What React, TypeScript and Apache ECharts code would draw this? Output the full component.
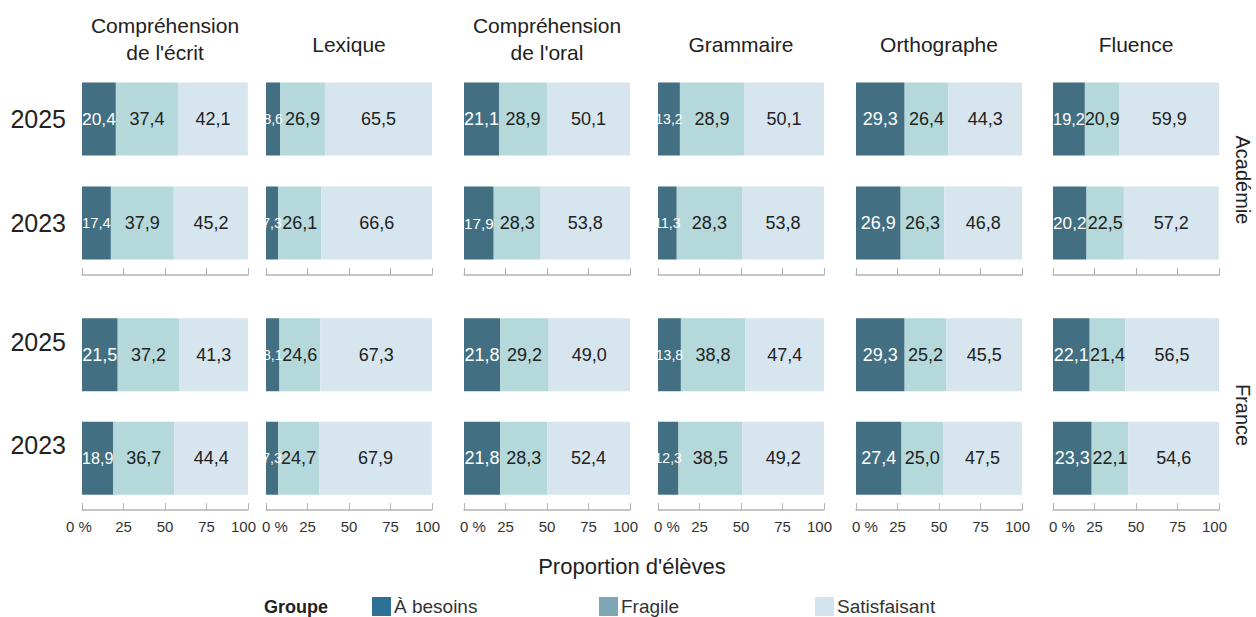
import React, { useEffect, useRef } from "react";
import * as echarts from "echarts";

// ---------- data ----------
const subjects = [
  "Compréhension\nde l'écrit",
  "Lexique",
  "Compréhension\nde l'oral",
  "Grammaire",
  "Orthographe",
  "Fluence",
];
const years = ["2025", "2023"];
const regions = ["Académie", "France"];
const groups = ["À besoins", "Fragile", "Satisfaisant"];
const xTicks = [0, 25, 50, 75, 100];

// values per subject: [2025, 2023]
const besoinsAcad = [[20.4, 17.4], [8.6, 7.3], [21.1, 17.9], [13.2, 11.3], [29.3, 26.9], [19.2, 20.2]];
const fragileAcad = [[37.4, 37.9], [26.9, 26.1], [28.9, 28.3], [38.6, 39.3], [26.4, 26.3], [20.9, 22.5]];
const satisAcad = [[42.1, 45.2], [65.5, 66.6], [50.1, 53.8], [48.2, 49.4], [44.3, 46.8], [59.9, 57.2]];

const besoinsFr = [[21.5, 18.9], [8.1, 7.3], [21.8, 21.8], [13.8, 12.3], [29.3, 27.4], [22.1, 23.3]];
const fragileFr = [[37.2, 36.7], [24.6, 24.7], [29.2, 28.3], [38.8, 38.5], [25.2, 25.0], [21.4, 22.1]];
const satisFr = [[41.3, 44.4], [67.3, 67.9], [49.0, 52.4], [47.4, 49.2], [45.5, 47.5], [56.5, 54.6]];

// labels printed in the reference that differ from the bar lengths (Académie, Grammaire)
const printedAcadGrammaireFragile = ["28,9", "28,3"];
const printedAcadGrammaireSatis = ["50,1", "53,8"];

const regionData = [
  [besoinsAcad, fragileAcad, satisAcad],
  [besoinsFr, fragileFr, satisFr],
];

// ---------- styles ----------
const FONT = "'Liberation Sans', Arial, sans-serif";
const barColors = ["#436f83", "#b5d8da", "#d7e5ee"];
const legendColors = ["#2c7096", "#7ea6b4", "#d4e4ee"];
const labelColors = ["#ffffff", "#222222", "#222222"];
const colX = [82, 266, 464, 658, 856, 1053];
const colW = 166;
const rowBox = [
  { top: 67, height: 208 },
  { top: 303, height: 207 },
];

const fmt = (v: number) => v.toFixed(1).replace(".", ",");
// shrink labels that would not fit in their segment (as the reference does)
const labelSize = (v: number) => Math.max(14, Math.min(18, (v * colW) / 100 / 1.95));

export default function App() {
  const ref = useRef<HTMLDivElement>(null);

  useEffect(() => {
    if (!ref.current) return;
    const chart = echarts.init(ref.current, null, { renderer: "svg" });

    const grids: any[] = [];
    const xAxes: any[] = [];
    const yAxes: any[] = [];
    const series: any[] = [];

    regions.forEach((_, r) => {
      subjects.forEach((_s, c) => {
        const g = grids.length;
        grids.push({
          left: colX[c],
          width: colW,
          top: rowBox[r].top,
          height: rowBox[r].height,
          containLabel: false,
          outerBoundsMode: "none",
        });
        xAxes.push({
          type: "value",
          gridIndex: g,
          min: 0,
          max: 100,
          interval: 25,
          position: "bottom",
          axisLine: { show: true, lineStyle: { color: "#b4b4b4", width: 1.5 } },
          axisTick: { show: true, inside: true, length: 7, lineStyle: { color: "#b4b4b4" } },
          splitLine: { show: false },
          axisLabel: {
            show: r === 1,
            margin: 9,
            fontFamily: FONT,
            fontSize: 15,
            color: "#333",
            formatter: (v: number) => {
              if (v === xTicks[0]) return c === 0 ? "{a|0 %}" : "{b|0 %}";
              if (v === xTicks[xTicks.length - 1]) return "{c|" + v + "}";
              return String(v);
            },
            rich: {
              a: { fontFamily: FONT, fontSize: 15, color: "#333", padding: [0, 6, 0, 0] },
              b: { fontFamily: FONT, fontSize: 15, color: "#333", padding: [0, 0, 0, 18] },
              c: { fontFamily: FONT, fontSize: 15, color: "#333", padding: [0, 9, 0, 0] },
            },
          },
        });
        yAxes.push({
          type: "category",
          gridIndex: g,
          data: years,
          inverse: true,
          axisLine: { show: false },
          axisTick: { show: false },
          axisLabel: {
            show: c === 0,
            margin: 16,
            fontFamily: FONT,
            fontSize: 25,
            color: "#222",
            verticalAlign: r === 1 ? "bottom" : "middle",
            lineHeight: r === 1 ? 26 : 30,
          },
        });
        groups.forEach((name, k) => {
          const vals = regionData[r][k][c];
          series.push({
            type: "bar",
            name,
            xAxisIndex: g,
            yAxisIndex: g,
            stack: "s" + g,
            barWidth: 73,
            itemStyle: { color: barColors[k] },
            label: {
              show: true,
              position: "inside",
              fontFamily: FONT,
              fontSize: 18,
              color: labelColors[k],
              formatter: (p: any) => fmt(p.value),
            },
            data: vals.map((v, yi) => {
              let printed: string | null = null;
              if (r === 0 && c === 3 && k === 1) printed = printedAcadGrammaireFragile[yi];
              if (r === 0 && c === 3 && k === 2) printed = printedAcadGrammaireSatis[yi];
              const lab: any = { fontSize: labelSize(v) };
              if (printed) lab.formatter = printed;
              return { value: v, label: lab };
            }),
          });
        });
      });
    });

    const graphics: any[] = [];
    subjects.forEach((s, c) => {
      const twoLines = s.includes("\n");
      graphics.push({
        type: "text",
        x: colX[c] + colW / 2,
        y: twoLines ? 39 : 44,
        style: {
          text: s,
          font: `21px ${FONT}`,
          fill: "#222",
          align: "center",
          verticalAlign: "middle",
          lineHeight: 27,
        },
      });
    });
    const regionY = [180, 415];
    regions.forEach((reg, r) => {
      graphics.push({
        type: "text",
        x: 1243,
        y: regionY[r],
        rotation: -Math.PI / 2,
        style: {
          text: reg,
          font: `20px ${FONT}`,
          fill: "#222",
          align: "center",
          verticalAlign: "middle",
        },
      });
    });
    graphics.push({
      type: "text",
      x: 632,
      y: 566,
      style: {
        text: "Proportion d'élèves",
        font: `22px ${FONT}`,
        fill: "#222",
        align: "center",
        verticalAlign: "middle",
      },
    });
    graphics.push({
      type: "text",
      x: 264,
      y: 607,
      style: {
        text: "Groupe",
        font: `bold 18px ${FONT}`,
        fill: "#222",
        align: "left",
        verticalAlign: "middle",
      },
    });

    const legendLeft = [372, 599, 815];
    const legends = groups.map((name, k) => ({
      left: legendLeft[k],
      top: 597,
      padding: 0,
      itemWidth: 19,
      itemHeight: 19,
      itemGap: 0,
      icon: "rect",
      textStyle: { fontFamily: FONT, fontSize: 19, color: "#333", padding: [0, 0, 0, -2] },
      data: [{ name, itemStyle: { color: legendColors[k] } }],
    }));

    chart.setOption({
      animation: false,
      grid: grids,
      xAxis: xAxes,
      yAxis: yAxes,
      series,
      legend: legends,
      graphic: graphics,
    });

    return () => chart.dispose();
  }, []);

  return (
    <div
      ref={ref}
      style={{ position: "fixed", left: 0, top: 0, width: 1256, height: 617, background: "#fff" }}
    />
  );
}
